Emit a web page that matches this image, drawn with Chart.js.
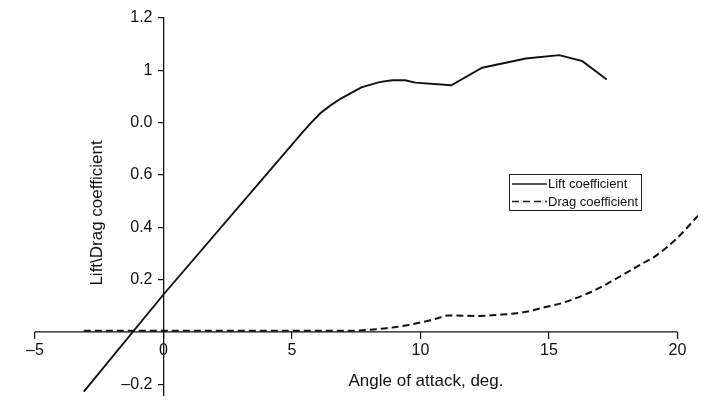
<!DOCTYPE html>
<html>
<head>
<meta charset="utf-8">
<script src="https://cdn.jsdelivr.net/npm/chart.js@4.4.1/dist/chart.umd.min.js"></script>
<style>
  html, body { margin: 0; padding: 0; background: #fff; }
  #wrap { width: 706px; height: 405px; }
</style>
</head>
<body>
<div id="wrap"><canvas id="aeroChart" width="706" height="405"></canvas></div>
<script>
    // Chart data
    const liftAngles = [-3.1, 0, 5.4, 5.75, 6.1, 6.5, 6.9, 7.7, 8.4, 8.9, 9.4, 9.8, 11.2, 12.4, 14.1, 15.4, 16.3, 17.25];
    const liftValues = [-0.228, 0.143, 0.762, 0.8, 0.836, 0.866, 0.892, 0.935, 0.955, 0.962, 0.962, 0.953, 0.943, 1.01, 1.045, 1.058, 1.035, 0.965];

    const dragAngles = [-3.1, 7, 8, 9, 10, 10.6, 11.1, 12.3, 13, 14, 15, 15.5, 16.4, 17, 17.7, 18.7, 19.1, 20, 20.8];
    const dragValues = [0.004, 0.004, 0.008, 0.018, 0.036, 0.05, 0.063, 0.061, 0.065, 0.075, 0.098, 0.11, 0.143, 0.17, 0.208, 0.265, 0.287, 0.36, 0.444];

    const xTickValues = [-5, 0, 5, 10, 15, 20];
    const xTickLabels = ['\u20135', '0', '5', '10', '15', '20'];
    const yTickValues = [-0.2, 0.2, 0.4, 0.6, 0.8, 1, 1.2];
    const yTickLabels = ['\u20130.2', '0.2', '0.4', '0.6', '0.0', '1', '1.2'];

    const seriesNames = ['Lift coefficient', 'Drag coefficient'];
    const xTitle = 'Angle of attack, deg.';
    const yTitle = 'Lift\\Drag coefficient';

    const toPoints = (xs, ys) => xs.map((x, i) => ({ x: x, y: ys[i] }));
    const fontFamily = '"Liberation Sans", Arial, Helvetica, sans-serif';

    // x axis line (stops at the last tick), y tick labels, titles and boxed legend
    const annotations = {
        id: 'annotations',
        afterDraw(chart) {
            const c = chart.ctx;
            const xs = chart.scales.x;
            const ys = chart.scales.y;
            const x0 = xs.getPixelForValue(0);
            const y0 = ys.getPixelForValue(0);
            c.save();

            c.strokeStyle = '#111';
            c.lineWidth = 1.3;
            c.beginPath();
            c.moveTo(xs.getPixelForValue(xTickValues[0]), y0);
            c.lineTo(xs.getPixelForValue(xTickValues[xTickValues.length - 1]), y0);
            c.stroke();

            c.fillStyle = '#111';
            c.font = '16px ' + fontFamily;
            c.textAlign = 'right';
            c.textBaseline = 'middle';
            yTickValues.forEach((v, i) => {
                c.fillText(yTickLabels[i], x0 - 11, ys.getPixelForValue(v));
            });

            c.font = '17px ' + fontFamily;
            c.textAlign = 'center';
            c.fillText(xTitle, 426, 381);
            c.save();
            c.translate(97, 213);
            c.rotate(-Math.PI / 2);
            c.fillText(yTitle, 0, 0);
            c.restore();

            // legend
            c.strokeStyle = '#222';
            c.lineWidth = 1;
            c.strokeRect(509.5, 174.5, 132, 36);
            c.font = '13px ' + fontFamily;
            c.textAlign = 'left';
            chart.data.datasets.forEach((ds, i) => {
                const y = 184 + i * 17.5;
                c.beginPath();
                c.lineWidth = 1.4;
                c.setLineDash(ds.borderDash || []);
                c.moveTo(512, y);
                c.lineTo(547, y);
                c.stroke();
                c.setLineDash([]);
                c.fillText(ds.label, 548, y + 0.5);
            });
            c.restore();
        }
    };

    const ctx = document.getElementById('aeroChart').getContext('2d');

    const aeroChart = new Chart(ctx, {
        type: 'line',
        data: {
            datasets: [
                {
                    label: seriesNames[0],
                    data: toPoints(liftAngles, liftValues),
                    borderColor: '#111',
                    borderWidth: 1.9,
                    pointRadius: 0,
                    tension: 0,
                    fill: false
                },
                {
                    label: seriesNames[1],
                    data: toPoints(dragAngles, dragValues),
                    borderColor: '#111',
                    borderWidth: 2,
                    borderDash: [7, 4],
                    pointRadius: 0,
                    cubicInterpolationMode: 'monotone',
                    fill: false
                }
            ]
        },
        options: {
            responsive: false,
            animation: false,
            layout: { padding: { left: 35, right: 8, top: 18, bottom: 9 } },
            plugins: {
                legend: { display: false },
                tooltip: { enabled: false }
            },
            scales: {
                x: {
                    type: 'linear',
                    position: { y: 0 },
                    min: -5,
                    max: 20.8,
                    afterBuildTicks: scale => { scale.ticks = xTickValues.map(v => ({ value: v })); },
                    afterFit: scale => { scale.paddingLeft = 0; scale.paddingRight = 0; },
                    grid: { drawOnChartArea: false, drawTicks: true, tickLength: 7, color: '#111', lineWidth: 1.2 },
                    border: { display: false },
                    ticks: {
                        padding: 2,
                        color: '#111',
                        font: { family: fontFamily, size: 16 },
                        maxRotation: 0,
                        callback: (value, index) => xTickLabels[index]
                    }
                },
                y: {
                    type: 'linear',
                    position: { x: 0 },
                    min: -0.245,
                    max: 1.2,
                    afterBuildTicks: scale => { scale.ticks = yTickValues.map(v => ({ value: v })); },
                    afterFit: scale => { scale.paddingTop = 0; scale.paddingBottom = 0; },
                    grid: { drawOnChartArea: false, drawTicks: true, tickLength: 5, color: '#111', lineWidth: 1.2 },
                    border: { color: '#111', width: 1.3 },
                    ticks: { display: false }
                }
            }
        },
        plugins: [annotations]
    });
</script>
</body>
</html>
